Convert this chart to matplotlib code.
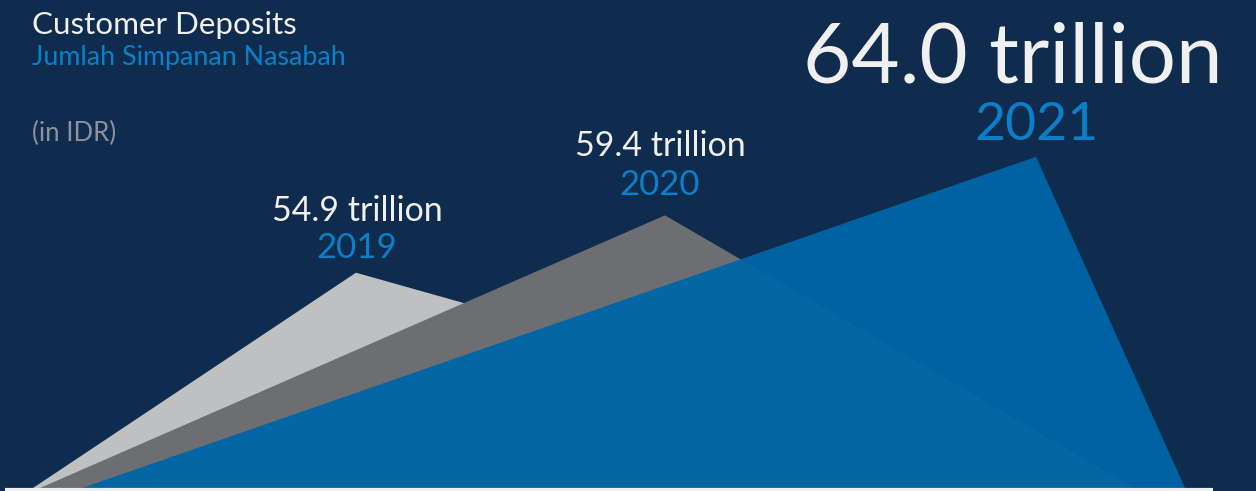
import matplotlib
matplotlib.use("Agg")
import matplotlib.pyplot as plt
from matplotlib.patches import Polygon

# data
years = ["2019", "2020", "2021"]
deposits = [54.9, 59.4, 64.0]  # IDR trillion

# layout (pixels across, value units up)
W, H = 1256, 491
base = 38.0
left_x = [33, 40, 82]
apex_x = [356, 665, 1036]
right_x = [1120, 1134, 1185]
fills = ["#bfc0c2", "#6d6e71", "#0066a8"]
alphas = [1.0, 1.0, 0.95]

bg = "#0f2c4e"
white = "#f0f0f0"
blue_txt = "#0a80c8"
grey_txt = "#8d9199"
plt.rcParams["font.family"] = ["Lato", "DejaVu Sans"]

fig = plt.figure(figsize=(W / 100, H / 100), dpi=100, facecolor=bg)
ax = fig.add_axes([0, 0, 1, 1])
ax.set_facecolor(bg)
ax.set_xlim(0, W)
px = 12.74  # pixels per trillion
ax.set_ylim(base - 3 / px, base + 488 / px)
ax.axis("off")

for i in range(len(years)):
    tri = Polygon([(left_x[i], base), (apex_x[i], deposits[i]), (right_x[i], base)],
                  closed=True, facecolor=fills[i], edgecolor="none", alpha=alphas[i], zorder=2 + i)
    ax.add_patch(tri)

# white base strip
ax.plot([5, 1213], [base - 1.5 / px, base - 1.5 / px], color=white, lw=3, solid_capstyle="butt", zorder=10)

# value labels above each apex
lab_x = [357, 660, 1013]
yr_x = [357, 660, 1037]
lab_dy = [4.06, 4.66, 5.79]
yr_dy = [1.15, 1.60, 1.32]
lab_fs = [24.5, 24.5, 60]
yr_fs = [25, 25, 38.5]
for i in range(len(years)):
    ax.text(lab_x[i], deposits[i] + lab_dy[i], f"{deposits[i]:.1f} trillion", color=white,
            fontsize=lab_fs[i], ha="center", va="baseline", zorder=11)
    ax.text(yr_x[i], deposits[i] + yr_dy[i], years[i], color=blue_txt,
            fontsize=yr_fs[i], ha="center", va="baseline", zorder=11)

# header
fig.text(32 / W, 1 - 34 / H, "Customer Deposits", color=white, fontsize=22.6, va="baseline")
fig.text(32 / W, 1 - 65 / H, "Jumlah Simpanan Nasabah", color=blue_txt, fontsize=19.3, va="baseline")
fig.text(32 / W, 1 - 141 / H, "(in IDR)", color=grey_txt, fontsize=18.5, va="baseline")

fig.savefig("out.png", dpi=100, facecolor=bg)
